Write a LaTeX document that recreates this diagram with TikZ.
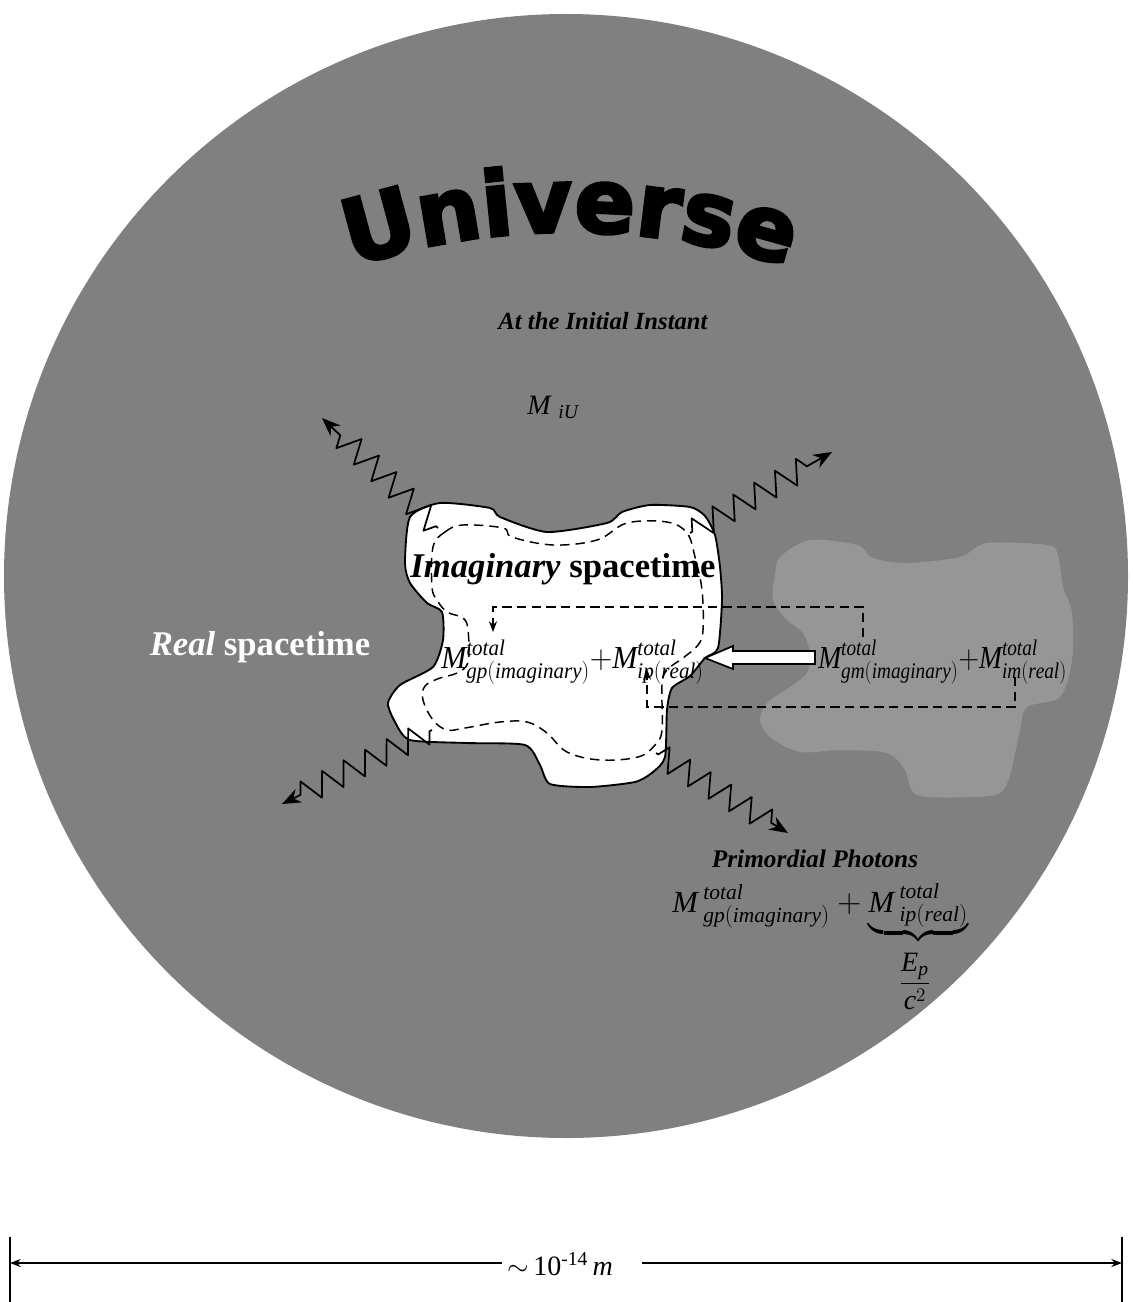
\documentclass[tikz,border=0pt]{standalone}
\usepackage{amsmath}
\usepackage{graphicx}
\usepackage{fontspec}
\setmainfont{Liberation Serif}
\newfontfamily\heavyfont[BoldFeatures={FakeBold=3.5}]{DejaVu Sans}
\usetikzlibrary{decorations.pathmorphing,decorations.text,arrows.meta}
\definecolor{bggray}{RGB}{128,128,128}
\definecolor{blobgray}{RGB}{150,150,150}
\newcommand{\mi}[1]{\mathit{#1}}
\newcommand{\univfont}{\heavyfont\bfseries\fontsize{67}{67}\selectfont}
\newcommand{\fs}[1]{\fontsize{#1}{#1}\selectfont}
\begin{document}
\begin{tikzpicture}[x=0.75pt,y=-0.75pt,
  outline/.style={line width=1.4pt, line join=round},
  contour/.style={line width=1.1pt, dash pattern=on 7pt off 4.5pt},
  dashline/.style={line width=1.4pt, dash pattern=on 7pt off 4pt},
  photon/.style={line width=1.3pt, line join=round, decorate,
     decoration={zigzag, segment length=18pt, amplitude=9pt, pre length=2pt, post length=14pt},
     -{Stealth[length=14pt,width=11pt]}},
  smallarrow/.style={-{Stealth[length=8pt,width=6pt]}},
  dimline/.style={line width=1.4pt, -{Stealth[length=8pt,width=6pt]}},
  ]
\useasboundingbox (0,0) rectangle (1132,1302);
\fill[white] (0,0) rectangle (1132,1302);
% universe disc
\fill[bggray] (566,576) circle[radius=421.5pt];
% light gray region
\fill[blobgray] plot[smooth cycle, tension=0.5] coordinates {
 (780,557) (810,540) (857,545) (873,558) (907,563) (960,557) (987,543)
 (1047,545) (1058,555) (1063,587) (1072,613) (1072,660) (1060,697)
 (1027,707) (1020,730) (1010,775) (1000,793) (973,797) (917,795) (905,770)
 (887,753) (840,750) (800,752) (770,737) (760,720) (767,703) (790,687)
 (807,673) (810,653) (803,633) (787,620) (773,600) (775,575)};
% imaginary spacetime region
\filldraw[fill=white, outline] plot[smooth cycle, tension=0.4] coordinates {
 (410,517) (440,503) (490,508) (500,517) (547,532) (607,523) (622,512)
 (650,505) (690,507) (705,516) (715,535) (720,567) (722,600) (718,648)
 (705,658) (690,676) (672,688) (667,710) (665,757) (653,772) (635,782)
 (590,787) (550,784) (540,765) (525,745) (467,743) (410,740) (395,722)
 (388,703) (400,685) (433,667) (443,640) (442,612) (427,603) (410,583)
 (405,563)};
\draw[contour] plot[smooth cycle, tension=0.6] coordinates {
 (433,547) (445,532) (463,525) (503,528) (512,537) (553,545) (597,540)
 (627,523) (667,522) (687,533) (695,557) (702,590) (703,630) (698,645)
 (683,658) (667,670) (662,685) (662,730) (655,745) (638,757) (600,760)
 (567,752) (547,733) (527,722) (500,722) (465,728) (447,730) (433,720)
 (423,700) (425,686) (440,678) (457,673) (468,662) (468,630) (463,618)
 (447,612) (437,600) (432,587)};
% title
\path[decorate, decoration={text along path, text={|\univfont|Universe}, text align=center}]
  (331,274) .. controls (486,218) and (654,218) .. (809,274);
% texts
\node (inst) at (603,321) {\fs{18.5}\bfseries\itshape At the Initial Instant};
\node (miu) at (553,407) {\fs{21}$\mi{M}\;{}_{\mi{iU}}$};
\node (imag) at (563,569) {\fs{26}\bfseries\itshape Imaginary \upshape spacetime};
\node (real) at (260,647) {\color{white}\fs{26}\bfseries\itshape Real \upshape spacetime};
\node[anchor=base west, inner sep=0] (fl) at (441,668)
  {\scalebox{0.94}[1]{\fs{24}$\mi{M}^{\mi{total}}_{\mi{gp}(\mi{imaginary})}{+}\mi{M}^{\mi{total}}_{\mi{ip}(\mi{real})}$}};
\node[anchor=base west, inner sep=0] (fr) at (818,668)
  {\scalebox{0.86}[1]{\fs{24}$\mi{M}^{\mi{total}}_{\mi{gm}(\mi{imaginary})}{+}\mi{M}^{\mi{total}}_{\mi{im}(\mi{real})}$}};
\node (pp) at (815,859) {\fs{19}\bfseries\itshape Primordial Photons};
\node[anchor=base west, inner sep=0] (pf) at (672,912)
  {\fs{23}$\mi{M}\,{}^{\mi{total}}_{\mi{gp}(\mi{imaginary})}+\underbrace{\mi{M}\,{}^{\mi{total}}_{\mi{ip}(\mi{real})}}$};
\node (frac) at (915,981) {\fs{21}$\displaystyle\frac{\mi{E}_{\mi{p}}}{\mi{c}^{2}}$};
% dashed transfer paths
\coordinate (d1a) at (863,637); \coordinate (d1b) at (863,607);
\coordinate (d1c) at (493,607); \coordinate (d1d) at (493,632);
\draw[dashline, smallarrow] (d1a) -- (d1b) -- (d1c) -- (d1d);
\coordinate (d2a) at (1015,677); \coordinate (d2b) at (1015,707);
\coordinate (d2c) at (647,707); \coordinate (d2d) at (647,669);
\draw[dashline, smallarrow] (d2a) -- (d2b) -- (d2c) -- (d2d);
% white block arrow
\filldraw[fill=white, line width=1.3pt, line join=miter]
  (815,651) -- (733,651) -- (733,646) -- (705,658) -- (733,669) -- (733,664) -- (815,664) -- cycle;
% photons
\coordinate (p1s) at (438,528); \coordinate (p1e) at (322,418);
\coordinate (p2s) at (690,533); \coordinate (p2e) at (832,452);
\coordinate (p3s) at (432,730); \coordinate (p3e) at (282,804);
\coordinate (p4s) at (656,753); \coordinate (p4e) at (788,833);
\draw[photon] (p1s) -- (p1e);
\draw[photon] (p2s) -- (p2e);
\draw[photon] (p3s) -- (p3e);
\draw[photon] (p4s) -- (p4e);
% dimension line
\node (dim) at (560,1264) {\fs{21}$\sim$\,10\textsuperscript{-14}\,\textit{m}};
\coordinate (tl) at (10,1263); \coordinate (tr) at (1122,1263);
\coordinate (dr) at ([xshift=18pt]dim.east);
\draw[line width=1pt] (10,1237) -- (10,1302);
\draw[line width=1pt] (1122,1237) -- (1122,1302);
\draw[dimline] (dim.west |- tl) -- (tl);
\draw[dimline] (dr |- tr) -- (tr);
\end{tikzpicture}
\end{document}
